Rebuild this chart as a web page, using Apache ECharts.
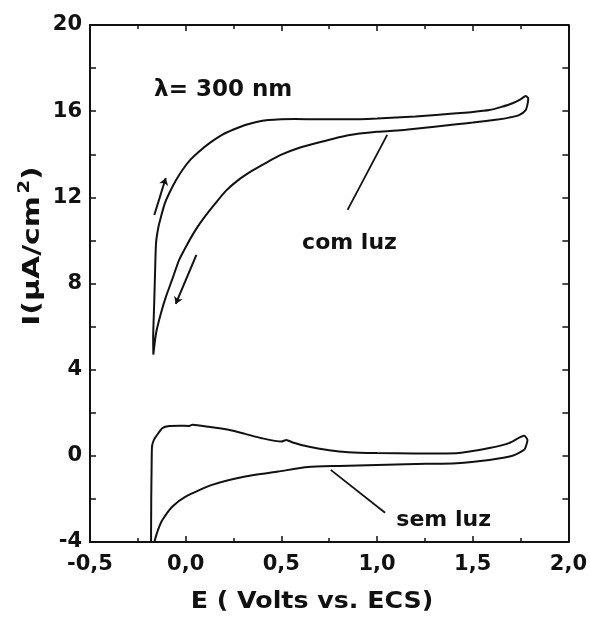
<!DOCTYPE html>
<html><head><meta charset="utf-8">
<script src="https://cdn.jsdelivr.net/npm/echarts@6/dist/echarts.min.js"></script>
<style>html,body{margin:0;padding:0;background:#fff}#c{width:590px;height:626px}</style>
</head><body><div id="c"></div>
<script>
// Tick labels (comma decimal separator as in the original)
const xTickValues = [-0.5, 0.0, 0.5, 1.0, 1.5, 2.0];
const xTickLabels = ['-0,5', '0,0', '0,5', '1,0', '1,5', '2,0'];
const yTickValues = [-4, 0, 4, 8, 12, 16, 20];
const yTickLabels = ['-4', '0', '4', '8', '12', '16', '20'];

// "com luz" (with light) voltammogram: E (V vs. ECS), I (uA/cm2)
const comLuzE = [-0.169, -0.17, -0.167, -0.164, -0.16, -0.155, -0.143, -0.129, -0.11, -0.086, -0.05, -0.017, 0.025, 0.069, 0.13, 0.19, 0.25, 0.311, 0.37, 0.432, 0.5, 0.57, 0.7, 0.85, 1.0, 1.2, 1.415, 1.5, 1.587, 1.65, 1.708, 1.75, 1.777, 1.79, 1.787, 1.777, 1.742,
  1.69, 1.639, 1.5, 1.415, 1.3, 1.15, 1.0, 0.85, 0.72, 0.587, 0.5, 0.432, 0.35, 0.276, 0.21, 0.156, 0.1, 0.052, 0.01, -0.034, -0.07, -0.103, -0.13, -0.155, -0.169];
const comLuzI = [4.7, 5.5, 6.4, 7.24, 8.5, 9.87, 10.6, 11.1, 11.7, 12.19, 12.8, 13.27, 13.75, 14.12, 14.55, 14.9, 15.15, 15.36, 15.5, 15.59, 15.63, 15.64, 15.62, 15.62, 15.66, 15.75, 15.9, 15.96, 16.05, 16.2, 16.37, 16.55, 16.7, 16.6, 16.35, 16.05, 15.82,
  15.7, 15.62, 15.47, 15.39, 15.28, 15.14, 15.04, 14.88, 14.6, 14.28, 13.98, 13.66, 13.25, 12.81, 12.3, 11.73, 11.1, 10.49, 9.85, 9.1, 8.2, 7.39, 6.6, 5.69, 4.7];

// "sem luz" (dark) voltammogram
const semLuzE = [-0.181, -0.18, -0.178, -0.176, -0.168, -0.155, -0.121, -0.086, -0.03, 0.018, 0.035, 0.12, 0.225, 0.31, 0.397, 0.5, 0.526, 0.56, 0.639, 0.75, 0.85, 1.0, 1.2, 1.415, 1.587, 1.69, 1.769, 1.786, 1.78, 1.769, 1.708,
  1.587, 1.415, 1.2, 1.0, 0.8, 0.639, 0.483, 0.311, 0.138, 0.0, -0.069, -0.121, -0.145, -0.164];
const semLuzI = [-4.0, -2.0, -0.5, 0.43, 0.7, 0.9, 1.29, 1.39, 1.4, 1.39, 1.44, 1.35, 1.21, 1.02, 0.82, 0.66, 0.74, 0.62, 0.43, 0.26, 0.17, 0.13, 0.11, 0.12, 0.36, 0.59, 0.93, 0.74, 0.5, 0.28, 0.0,
  -0.19, -0.34, -0.38, -0.42, -0.47, -0.52, -0.73, -0.96, -1.35, -1.89, -2.35, -2.97, -3.45, -4.0];

// Annotations (data coordinates)
const annotTexts = ['λ= 300 nm', 'com luz', 'sem luz'];
const annotPos = [[-0.165, 16.98], [0.856, 9.88], [1.348, -2.97]];
const leaderLines = [[[0.846, 11.42], [1.053, 14.9]], [[0.758, -0.65], [1.042, -2.64]]];
const arrowLines = [[[-0.164, 11.18], [-0.104, 12.9]], [[0.056, 9.33], [-0.052, 7.05]]];

const FONT = 'DejaVu Sans';
const chart = echarts.init(document.getElementById('c'), null, {renderer: 'canvas'});

function pairs(xs, ys) { return xs.map((x, i) => [x, ys[i]]); }
function labelFor(values, labels) {
  return v => { const i = values.findIndex(t => Math.abs(t - v) < 1e-9); return i >= 0 ? labels[i] : ''; };
}

const axisLineStyle = {color: '#111', width: 2};
const baseX = {type: 'value', min: -0.5, max: 2.0, interval: 0.5, splitLine: {show: false},
  axisLine: {show: true, onZero: false, lineStyle: axisLineStyle},
  axisTick: {show: true, inside: true, length: 6, lineStyle: {color: '#111', width: 1.5}},
  minorTick: {show: true, splitNumber: 2, length: 4, lineStyle: {color: '#111', width: 1.5}}};
const baseY = {type: 'value', min: -4, max: 20, interval: 4, splitLine: {show: false},
  axisLine: {show: true, onZero: false, lineStyle: axisLineStyle},
  axisTick: {show: true, inside: true, length: 6, lineStyle: {color: '#111', width: 1.5}},
  minorTick: {show: true, splitNumber: 2, length: 6, lineStyle: {color: '#111', width: 1.5}}};

const option = {
  backgroundColor: '#fff',
  animation: false,
  grid: {left: 90, right: 16, top: 25, bottom: 84, containLabel: false},
  xAxis: [
    Object.assign({}, baseX, {position: 'bottom',
      axisLabel: {show: true, margin: 12, color: '#111', fontFamily: FONT, fontWeight: 'bold', fontSize: 21,
        formatter: labelFor(xTickValues, xTickLabels)}}),
    Object.assign({}, baseX, {position: 'top', axisLabel: {show: false}})
  ],
  yAxis: [
    Object.assign({}, baseY, {position: 'left',
      axisLabel: {show: true, margin: 8, color: '#111', fontFamily: FONT, fontWeight: 'bold', fontSize: 21,
        formatter: labelFor(yTickValues, yTickLabels)}}),
    Object.assign({}, baseY, {position: 'right', axisLabel: {show: false}})
  ],
  series: [
    {name: 'com luz', type: 'line', xAxisIndex: 0, yAxisIndex: 0, data: pairs(comLuzE, comLuzI),
      showSymbol: false, smooth: 0.2, lineStyle: {color: '#111', width: 2}, z: 3},
    {name: 'sem luz', type: 'line', xAxisIndex: 0, yAxisIndex: 0, data: pairs(semLuzE, semLuzI),
      showSymbol: false, smooth: 0.2, lineStyle: {color: '#111', width: 2}, z: 3},
    {name: 'leaders', type: 'lines', coordinateSystem: 'cartesian2d', xAxisIndex: 0, yAxisIndex: 0,
      data: leaderLines.map(c => ({coords: c})), symbol: ['none', 'none'],
      lineStyle: {color: '#111', width: 1.8, opacity: 1}, silent: true},
    {name: 'arrows', type: 'lines', coordinateSystem: 'cartesian2d', xAxisIndex: 0, yAxisIndex: 0,
      data: arrowLines.map(c => ({coords: c})), symbol: ['none', 'arrow'], symbolSize: 7,
      lineStyle: {color: '#111', width: 2, opacity: 1}, silent: true}
  ]
};
chart.setOption(option);

function px(p) { return chart.convertToPixel({xAxisIndex: 0, yAxisIndex: 0}, p); }
const p0 = px(annotPos[0]), p1 = px(annotPos[1]), p2 = px(annotPos[2]);
chart.setOption({
  graphic: [
    {type: 'text', x: p0[0], y: p0[1], style: {text: annotTexts[0], fill: '#111', font: 'bold 23px "DejaVu Sans"', align: 'left', verticalAlign: 'middle'}},
    {type: 'text', x: p1[0], y: p1[1], style: {text: annotTexts[1], fill: '#111', font: 'bold 22px "DejaVu Sans"', align: 'center', verticalAlign: 'middle'}},
    {type: 'text', x: p2[0], y: p2[1], style: {text: annotTexts[2], fill: '#111', font: 'bold 22px "DejaVu Sans"', align: 'center', verticalAlign: 'middle'}},
    {type: 'text', x: 312, y: 602, scaleX: 1.1, style: {text: 'E ( Volts vs. ECS)', fill: '#111', font: 'bold 23px "DejaVu Sans"', align: 'center', verticalAlign: 'middle'}},
    {type: 'text', x: 31, y: 246, rotation: Math.PI / 2, scaleX: 1.3,
      style: {text: '{b|I(μA/cm}{s|2}{b|)}', align: 'center', verticalAlign: 'middle',
        rich: {b: {fill: '#111', font: 'bold 23px "DejaVu Sans"', verticalAlign: 'bottom'},
               s: {fill: '#111', font: 'bold 15px "DejaVu Sans"', verticalAlign: 'top', padding: [0, 0, 12, 2]}}}}
  ]
});
</script>
</body></html>
